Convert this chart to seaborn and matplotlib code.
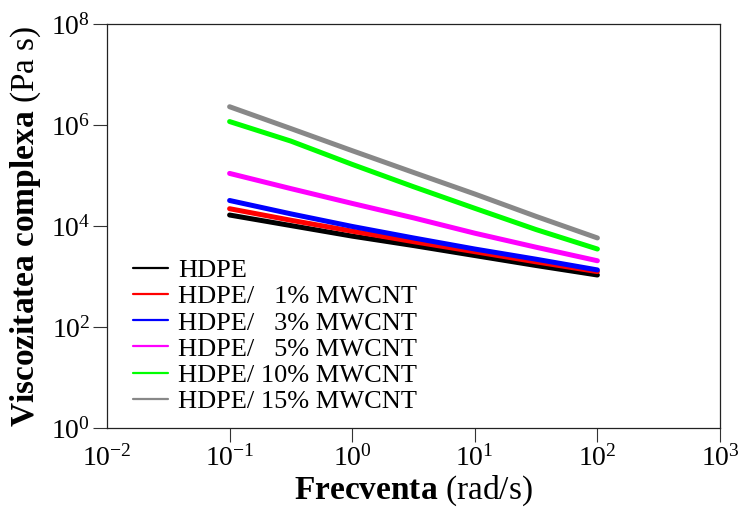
import numpy as np
import pandas as pd
import matplotlib
matplotlib.use("Agg")
import matplotlib.pyplot as plt
import seaborn as sns

# ---- data ----
freq = [0.1, 0.316, 1.0, 3.16, 10.0, 31.6, 100.0]
labels = ["HDPE", "HDPE/   1% MWCNT", "HDPE/   3% MWCNT",
          "HDPE/   5% MWCNT", "HDPE/ 10% MWCNT", "HDPE/ 15% MWCNT"]
eta_hdpe = [1.65e4, 1.02e4, 6.3e3, 4.1e3, 2.6e3, 1.65e3, 1.07e3]
eta_1 = [2.2e4, 1.3e4, 7.9e3, 4.9e3, 3.1e3, 1.95e3, 1.25e3]
eta_3 = [3.2e4, 1.74e4, 9.8e3, 5.8e3, 3.5e3, 2.2e3, 1.35e3]
eta_5 = [1.1e5, 5.5e4, 2.8e4, 1.45e4, 7.2e3, 3.8e3, 2.05e3]
eta_10 = [1.17e6, 4.8e5, 1.66e5, 6.0e4, 2.24e4, 8.5e3, 3.5e3]
eta_15 = [2.3e6, 8.5e5, 3.1e5, 1.15e5, 4.3e4, 1.55e4, 5.8e3]
colors = ["#000000", "#ff0000", "#0000ff", "#ff00ff", "#00ff00", "#888888"]
xticks = [1e-2, 1e-1, 1e0, 1e1, 1e2, 1e3]
yticks = [1e0, 1e2, 1e4, 1e6, 1e8]

series = [eta_hdpe, eta_1, eta_3, eta_5, eta_10, eta_15]
df = pd.concat([pd.DataFrame({"freq": freq, "eta": s, "sample": lab})
                for s, lab in zip(series, labels)], ignore_index=True)

sns.set_theme(style="ticks")
plt.rcParams["font.family"] = ["Liberation Serif", "DejaVu Serif"]
plt.rcParams["mathtext.fontset"] = "custom"
plt.rcParams["mathtext.rm"] = "Liberation Serif"
plt.rcParams["mathtext.it"] = "Liberation Serif:italic"
plt.rcParams["mathtext.bf"] = "Liberation Serif:bold"
plt.rcParams["text.color"] = "black"
plt.rcParams["axes.labelcolor"] = "black"
plt.rcParams["xtick.color"] = "black"
plt.rcParams["ytick.color"] = "black"

fig = plt.figure(figsize=(7.39, 5.08), dpi=100)
ax = fig.add_axes([107/739, 1-428/508, (720-107)/739, (428-24)/508])

sns.lineplot(data=df, x="freq", y="eta", hue="sample", palette=colors,
             hue_order=labels, linewidth=3.6, ax=ax, legend=True)

ax.set_xscale("log")
ax.set_yscale("log")
ax.set_xlim(1e-2, 1e3)
ax.set_ylim(1e0, 1e8)
ax.set_xticks(xticks)
ax.set_yticks(yticks)
ax.xaxis.set_minor_locator(matplotlib.ticker.NullLocator())
ax.yaxis.set_minor_locator(matplotlib.ticker.NullLocator())
ax.tick_params(axis="both", which="major", direction="out", length=10,
               width=0.8, labelsize=20, pad=2, color="#333333",
               labelcolor="black")
for sp in ax.spines.values():
    sp.set_visible(True)
    sp.set_linewidth(0.9)
    sp.set_color("#222222")
ax.xaxis.get_major_ticks()[0].tick1line.set_visible(False)

ax.set_xlabel(r"$\mathbf{Frecventa}$ (rad/s)", fontsize=24, labelpad=2)
ax.set_ylabel(r"$\mathbf{Viscozitatea\ complexa}$ (Pa s)", fontsize=24, labelpad=6)

handles, labs = ax.get_legend_handles_labels()
for h in handles:
    h.set_linewidth(1.6)
ax.legend(handles, labs, loc="center left", bbox_to_anchor=(0.042, 0.228),
          frameon=False, fontsize=19, handlelength=1.33, handletextpad=0.38,
          labelspacing=0.1, borderpad=0, borderaxespad=0)

fig.savefig("out.png", dpi=100)
